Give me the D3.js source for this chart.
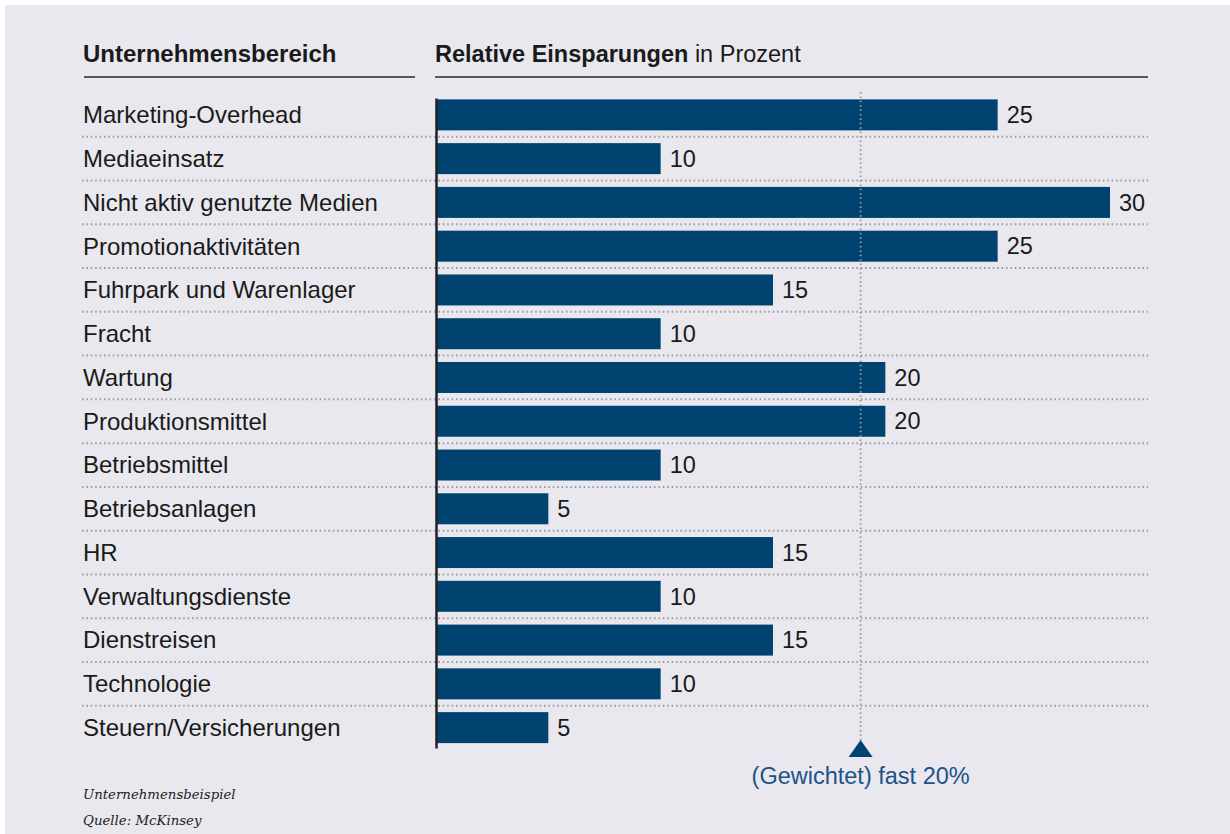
<!DOCTYPE html>
<html>
<head>
<meta charset="utf-8">
<script src="https://cdn.jsdelivr.net/npm/d3@7"></script>
<style>
  html, body { margin: 0; padding: 0; background: #fff; }
  svg { display: block; }
</style>
</head>
<body>
<svg id="chart" width="1230" height="834"></svg>
<script>
var categories = ["Marketing-Overhead", "Mediaeinsatz", "Nicht aktiv genutzte Medien", "Promotionaktivitäten",
  "Fuhrpark und Warenlager", "Fracht", "Wartung", "Produktionsmittel", "Betriebsmittel", "Betriebsanlagen",
  "HR", "Verwaltungsdienste", "Dienstreisen", "Technologie", "Steuern/Versicherungen"];
var savings = [25, 10, 30, 25, 15, 10, 20, 20, 10, 5, 15, 10, 15, 10, 5];
var weightedValue = 18.9;
var weightedLabel = "(Gewichtet) fast 20%";
var footnotes = ["Unternehmensbeispiel", "Quelle: McKinsey"];

var svg = d3.select("#chart");
var sans = "'Liberation Sans', Arial, sans-serif";

svg.append("rect")
  .attr("x", 5).attr("y", 5).attr("width", 1225).attr("height", 829)
  .attr("fill", "#e9e8ee");

var x = d3.scaleLinear().domain([0, 30]).range([436, 1110]);
var y = d3.scaleBand().domain(categories).range([93, 749.5]);
var barH = 31;

// headers
svg.append("text").attr("x", 83).attr("y", 62)
  .attr("font-family", sans).attr("font-weight", "bold").attr("font-size", 24)
  .attr("fill", "#1a1a1a").text("Unternehmensbereich");
var h2 = svg.append("text").attr("x", 435).attr("y", 62)
  .attr("font-family", sans).attr("font-size", 23.5).attr("fill", "#1a1a1a");
h2.append("tspan").attr("font-weight", "bold").text("Relative Einsparungen");
h2.append("tspan").text(" in Prozent");

svg.append("line").attr("x1", 84).attr("x2", 415).attr("y1", 77).attr("y2", 77)
  .attr("stroke", "#58575c").attr("stroke-width", 2);
svg.append("line").attr("x1", 435).attr("x2", 1148).attr("y1", 77).attr("y2", 77)
  .attr("stroke", "#58575c").attr("stroke-width", 2);

// dotted row separators
svg.append("g").selectAll("line")
  .data(categories.slice(0, -1))
  .enter().append("line")
    .attr("x1", 82).attr("x2", 1148)
    .attr("y1", d => y(d) + y.bandwidth()).attr("y2", d => y(d) + y.bandwidth())
    .attr("stroke", "#9a999e").attr("stroke-width", 2)
    .attr("stroke-dasharray", "1.5,2.9");

// bars
svg.append("g").selectAll("rect")
  .data(savings)
  .enter().append("rect")
    .attr("x", x(0))
    .attr("y", (d, i) => y(categories[i]) + (y.bandwidth() - barH) / 2)
    .attr("width", d => x(d) - x(0))
    .attr("height", barH)
    .attr("fill", "#004370");

// weighted marker line
var wx = x(weightedValue);
svg.append("line")
  .attr("x1", wx).attr("x2", wx)
  .attr("y1", 92).attr("y2", 741)
  .attr("stroke", "#9a999e").attr("stroke-width", 2)
  .attr("stroke-dasharray", "1.5,2.9");

var tri = d3.path();
tri.moveTo(wx, 740);
tri.lineTo(wx + 12, 757);
tri.lineTo(wx - 12, 757);
tri.closePath();
svg.append("path").attr("d", tri.toString()).attr("fill", "#004370");

svg.append("text")
  .attr("x", wx).attr("y", 784)
  .attr("text-anchor", "middle")
  .attr("font-family", sans).attr("font-size", 23.5)
  .attr("fill", "#1b5388").text(weightedLabel);

// vertical axis
svg.append("g")
  .attr("transform", "translate(" + x(0) + ",0)")
  .call(d3.axisLeft(d3.scaleLinear().range([98, 748])).ticks(0).tickSize(0))
  .call(g => g.select(".domain").attr("stroke", "#222").attr("stroke-width", 2.5));

// category labels
svg.append("g").selectAll("text")
  .data(categories)
  .enter().append("text")
    .attr("x", 83)
    .attr("y", d => y(d) + y.bandwidth() / 2)
    .attr("dy", "0.35em")
    .attr("font-family", sans).attr("font-size", 24)
    .attr("fill", "#1a1a1a")
    .text(d => d);

// value labels
svg.append("g").selectAll("text")
  .data(savings)
  .enter().append("text")
    .attr("x", d => x(d) + 9)
    .attr("y", (d, i) => y(categories[i]) + y.bandwidth() / 2)
    .attr("dy", "0.35em")
    .attr("font-family", sans).attr("font-size", 23.5)
    .attr("fill", "#1a1a1a")
    .text(d => d);

// footnotes
svg.append("g").selectAll("text")
  .data(footnotes)
  .enter().append("text")
    .attr("x", 83)
    .attr("y", (d, i) => 799 + i * 26)
    .attr("font-family", "'DejaVu Serif', Georgia, serif")
    .attr("font-style", "italic").attr("font-size", 13.3)
    .attr("fill", "#222")
    .text(d => d);
</script>
</body>
</html>
